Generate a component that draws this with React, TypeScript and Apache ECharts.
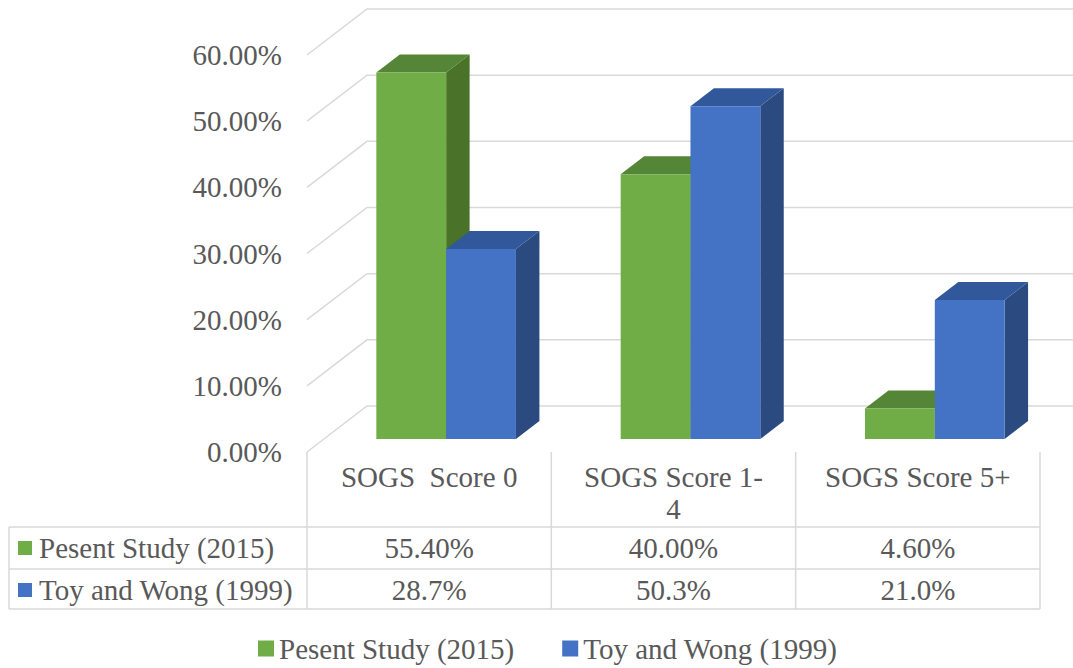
import React, { useEffect, useRef } from "react";
import * as echarts from "echarts";

// ---- data ----
const categories = ["SOGS  Score 0", "SOGS Score 1-4", "SOGS Score 5+"];
const seriesNames = ["Pesent Study (2015)", "Toy and Wong (1999)"];
const presentStudy = [55.4, 40.0, 4.6];
const toyAndWong = [28.7, 50.3, 21.0];
const valueDecimals = [2, 1];
const yTicks = [0, 10, 20, 30, 40, 50, 60];

// ---- styling ----
const FONT = "Liberation Serif, DejaVu Serif, serif";
const FONT_SIZE = 29;
const FONT_CSS = `${FONT_SIZE}px ${FONT}`;
const TEXT = "#595959";
const LINE = "#d9d9d9";
const faces = [
  { front: "#70ad47", top: "#558637", side: "#4a7229" },
  { front: "#4472c4", top: "#30589a", side: "#2b4a80" },
];

// plot box (front plane) and the oblique offset to its back wall
const GRID_LEFT = 307;
const GRID_RIGHT_X = 1040;
const GRID_TOP = 55;
const GRID_BASE_Y = 452;
const DEPTH_X = 60;
const DEPTH_Y = -46;
const BAR_FRONT = 0.283;
const BAR_BACK = 0.674;

// data table rows below the axis
const ROW_TOPS = [527, 569];
const TABLE_BOTTOM = 609;
const TABLE_LEFT = 9;

function wrapLabel(text: string, maxWidth: number): string {
  const ctx = document.createElement("canvas").getContext("2d");
  if (!ctx) return text;
  ctx.font = FONT_CSS;
  const tokens = text.split(/(?<=-)|(?<= )/);
  const lines: string[] = [];
  let line = "";
  for (const t of tokens) {
    const trial = line + t;
    if (line && ctx.measureText(trial.trimEnd()).width > maxWidth) {
      lines.push(line.trimEnd());
      line = t.trimStart();
    } else {
      line = trial;
    }
  }
  if (line) lines.push(line.trimEnd());
  return lines.join("\n");
}

export default function App() {
  const ref = useRef<HTMLDivElement>(null);

  useEffect(() => {
    if (!ref.current) return;
    const chart = echarts.init(ref.current, null, { renderer: "svg" });
    const seriesValues = [presentStudy, toyAndWong];
    const band = (GRID_RIGHT_X - GRID_LEFT) / categories.length;
    const rowH = ROW_TOPS[1] - ROW_TOPS[0];

    const barSeries = seriesValues.map((values, s) => ({
      type: "custom",
      name: seriesNames[s],
      coordinateSystem: "cartesian2d",
      itemStyle: { color: faces[s].front },
      encode: { x: 0, y: 1 },
      clip: false,
      data: values.map((v, i) => [i, v]),
      renderItem: (params: any, api: any) => {
        const i = api.value(0);
        const v = api.value(1);
        const top = api.coord([i, v]);
        const base = api.coord([i, 0]);
        const bw = api.size([1, 0])[0] / 3.5;
        const x0 = top[0] - bw + s * bw + BAR_FRONT * DEPTH_X;
        const yT = top[1] + BAR_FRONT * DEPTH_Y;
        const yB = base[1] + BAR_FRONT * DEPTH_Y;
        const dx = (BAR_BACK - BAR_FRONT) * DEPTH_X;
        const dy = (BAR_BACK - BAR_FRONT) * DEPTH_Y;
        const c = faces[s];
        return {
          type: "group",
          children: [
            {
              type: "polygon",
              shape: { points: [[x0 + bw, yT], [x0 + bw + dx, yT + dy], [x0 + bw + dx, yB + dy], [x0 + bw, yB]] },
              style: { fill: c.side },
            },
            {
              type: "polygon",
              shape: { points: [[x0, yT], [x0 + dx, yT + dy], [x0 + bw + dx, yT + dy], [x0 + bw, yT]] },
              style: { fill: c.top },
            },
            {
              type: "rect",
              shape: { x: x0, y: yT, width: bw, height: yB - yT },
              style: { fill: c.front },
            },
            {
              type: "text",
              x: base[0],
              y: ROW_TOPS[s] + rowH / 2,
              style: {
                text: v.toFixed(valueDecimals[s]) + "%",
                fontSize: FONT_SIZE,
                fontFamily: FONT,
                fill: TEXT,
                align: "center",
                verticalAlign: "middle",
              },
            },
          ],
        };
      },
    }));

    const wallSeries = {
      type: "custom",
      coordinateSystem: "cartesian2d",
      silent: true,
      clip: false,
      z: 1,
      data: yTicks.map((t) => [0, t]),
      renderItem: (params: any, api: any) => {
        const cs = params.coordSys;
        const y = api.coord([0, api.value(1)])[1];
        return {
          type: "polyline",
          shape: {
            points: [
              [cs.x, y],
              [cs.x + DEPTH_X, y + DEPTH_Y],
              [cs.x + cs.width + DEPTH_X, y + DEPTH_Y],
            ],
          },
          style: { stroke: LINE, lineWidth: 1.5, fill: "none" },
        };
      },
    };

    // data table grid lines and row headers
    const tableLines: any[] = [];
    const hLine = (y: number) => ({
      type: "line",
      shape: { x1: TABLE_LEFT, y1: y, x2: GRID_RIGHT_X, y2: y },
      style: { stroke: LINE, lineWidth: 1.5 },
    });
    [...ROW_TOPS, TABLE_BOTTOM].forEach((y) => tableLines.push(hLine(y)));
    tableLines.push({
      type: "line",
      shape: { x1: TABLE_LEFT, y1: ROW_TOPS[0], x2: TABLE_LEFT, y2: TABLE_BOTTOM },
      style: { stroke: LINE, lineWidth: 1.5 },
    });
    for (let k = 0; k <= categories.length; k++) {
      const x = GRID_LEFT + k * band;
      tableLines.push({
        type: "line",
        shape: { x1: x, y1: GRID_BASE_Y, x2: x, y2: TABLE_BOTTOM },
        style: { stroke: LINE, lineWidth: 1.5 },
      });
    }
    const rowHeaders: any[] = [];
    seriesNames.forEach((name, s) => {
      const cy = ROW_TOPS[s] + rowH / 2;
      rowHeaders.push({
        type: "rect",
        shape: { x: 18, y: cy - 7, width: 14, height: 14 },
        style: { fill: faces[s].front },
      });
      rowHeaders.push({
        type: "text",
        x: 39,
        y: cy,
        style: {
          text: name,
          fontSize: FONT_SIZE,
          fontFamily: FONT,
          fill: TEXT,
          align: "left",
          verticalAlign: "middle",
        },
      });
    });

    chart.setOption({
      animation: false,
      backgroundColor: "#ffffff",
      textStyle: { fontFamily: FONT },
      grid: {
        left: GRID_LEFT,
        right: 1073 - GRID_RIGHT_X,
        top: GRID_TOP,
        bottom: 668 - GRID_BASE_Y,
        containLabel: false,
      },
      xAxis: {
        type: "category",
        data: categories,
        axisLine: { show: false },
        axisTick: { show: false },
        axisLabel: {
          interval: 0,
          margin: 9,
          lineHeight: 32,
          fontSize: FONT_SIZE,
          fontFamily: FONT,
          color: TEXT,
          formatter: (v: string) => wrapLabel(v, band * 0.77),
        },
      },
      yAxis: {
        type: "value",
        min: 0,
        max: 60,
        interval: 10,
        axisLine: { show: false },
        axisTick: { show: false },
        splitLine: { show: false },
        axisLabel: {
          margin: 25,
          fontSize: FONT_SIZE,
          fontFamily: FONT,
          color: TEXT,
          formatter: (v: number) => v.toFixed(2) + "%",
        },
      },
      legend: {
        data: seriesNames,
        left: 258,
        top: 634,
        padding: 0,
        icon: "rect",
        itemWidth: 16,
        itemHeight: 16,
        itemGap: 48,
        textStyle: { fontSize: FONT_SIZE, fontFamily: FONT, color: TEXT },
      },
      graphic: [...tableLines, ...rowHeaders],
      series: [wallSeries, ...barSeries],
    });

    return () => chart.dispose();
  }, []);

  return (
    <div
      ref={ref}
      style={{ position: "fixed", left: 0, top: 0, width: 1073, height: 668 }}
    />
  );
}
